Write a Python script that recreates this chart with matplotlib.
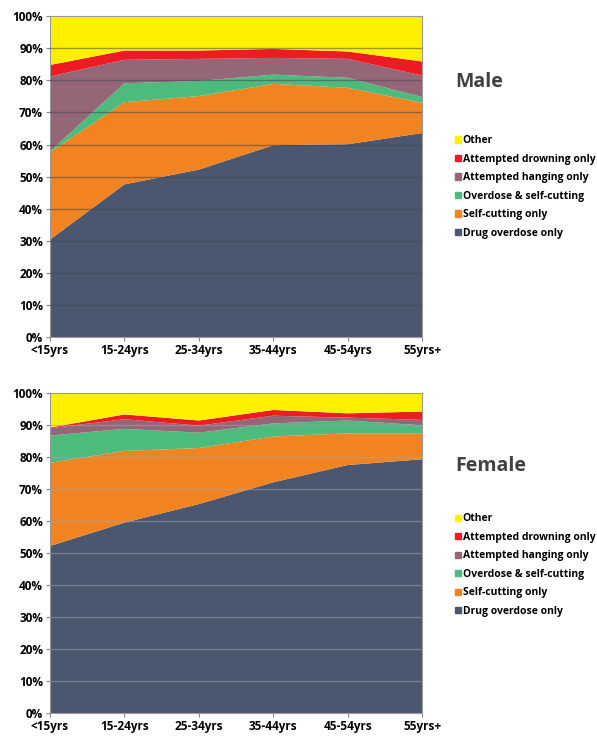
import numpy as np
import matplotlib.pyplot as plt
from matplotlib.patches import Patch

ages = ['<15yrs', '15-24yrs', '25-34yrs', '35-44yrs', '45-54yrs', '55yrs+']
labels = ['Drug overdose only', 'Self-cutting only', 'Overdose & self-cutting',
          'Attempted hanging only', 'Attempted drowning only', 'Other']
colors = ['#4b576e', '#f28321', '#4dbb7c', '#956677', '#ed1c24', '#fff000']

# male shares (%)
m_drug = [30.4, 47.6, 52.2, 59.8, 60.1, 63.6]
m_cut = [27.2, 25.6, 22.9, 19.1, 17.6, 9.4]
m_both = [0.3, 5.9, 4.7, 2.9, 3.1, 1.8]
m_hang = [23.3, 7.3, 6.9, 5.2, 5.9, 6.7]
m_drown = [3.6, 2.9, 2.6, 2.8, 2.3, 4.4]
m_other = [15.2, 10.7, 10.7, 10.2, 11.0, 14.1]

# female shares (%)
f_drug = [52.3, 59.6, 65.4, 72.2, 77.6, 79.4]
f_cut = [26.0, 22.4, 17.5, 14.3, 9.9, 8.1]
f_both = [8.5, 6.9, 4.8, 4.1, 4.0, 2.5]
f_hang = [2.3, 3.0, 2.2, 2.4, 0.9, 1.7]
f_drown = [0.2, 1.5, 1.6, 1.8, 1.35, 2.6]
f_other = [10.7, 6.6, 8.5, 5.2, 6.25, 5.7]

plt.rcParams['font.family'] = ['Open Sans', 'DejaVu Sans']
plt.rcParams['font.weight'] = 'bold'

fig = plt.figure(figsize=(5.97, 7.36), dpi=100)
ax1 = fig.add_axes([0.0838, 0.542, 0.6232, 0.436])
ax2 = fig.add_axes([0.0838, 0.0308, 0.6232, 0.4348])


def draw(ax, series, gridcol, title, ty, ly):
    x = np.arange(len(ages))
    ax.stackplot(x, *series, colors=colors, lw=0)
    ax.set_xlim(0, len(ages) - 1)
    ax.set_ylim(0, 100)
    ax.set_yticks(range(0, 101, 10))
    ax.set_yticklabels([f'{v}%' for v in range(0, 101, 10)])
    ax.set_xticks(x)
    ax.set_xticklabels(ages)
    ax.tick_params(labelsize=8.5, length=3, color='#888888', pad=2)
    for v in range(10, 100, 10):
        ax.axhline(v, color=gridcol, lw=1, alpha=0.5, zorder=3)
    for s in ax.spines.values():
        s.set_color('#999999')
    handles = [Patch(color=c) for c in colors[::-1]]
    fig.legend(handles, labels[::-1], loc='upper left', bbox_to_anchor=(0.755, ly),
               frameon=False, handlelength=0.55, handleheight=0.55,
               handletextpad=0.2, labelspacing=0.72, borderaxespad=0,
               prop={'weight': 'bold', 'size': 7.5})
    fig.text(0.762, ty, title, fontsize=14, fontweight='bold', color='#404040',
             va='center')


draw(ax1, [m_drug, m_cut, m_both, m_hang, m_drown, m_other], '#3a4356', 'Male', 0.889, 0.822)
draw(ax2, [f_drug, f_cut, f_both, f_hang, f_drown, f_other], '#a0a6b0', 'Female', 0.367, 0.308)

plt.savefig('out.png', dpi=100)
